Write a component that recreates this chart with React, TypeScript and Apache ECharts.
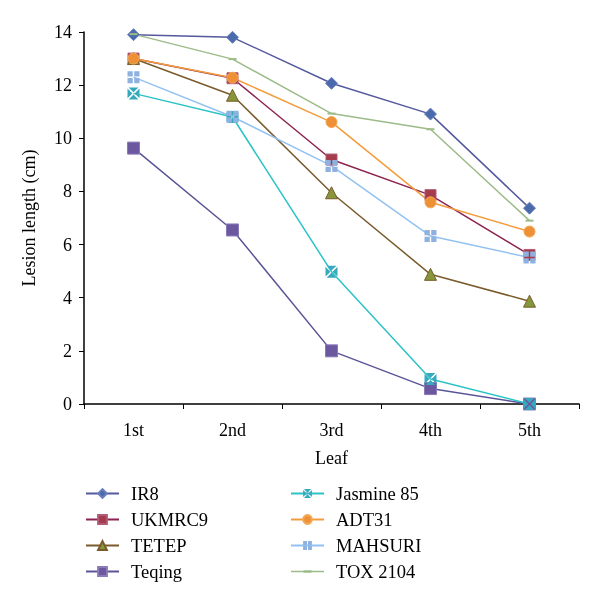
import React, { useEffect, useRef } from "react";
import * as echarts from "echarts";

const categories = ["1st", "2nd", "3rd", "4th", "5th"];
const seriesNames = ["IR8", "UKMRC9", "TETEP", "Teqing", "Jasmine 85", "ADT31", "MAHSURI", "TOX 2104"];
const ir8 = [13.9, 13.8, 12.07, 10.91, 7.37];
const ukmrc9 = [13.0, 12.26, 9.2, 7.86, 5.61];
const tetep = [13.0, 11.62, 7.95, 4.88, 3.87];
const teqing = [9.63, 6.55, 2.0, 0.58, 0];
const jasmine85 = [11.69, 10.8, 4.98, 0.94, 0];
const adt31 = [13.0, 12.28, 10.61, 7.59, 6.49];
const mahsuri = [12.3, 10.81, 8.96, 6.32, 5.51];
const tox2104 = [13.92, 12.98, 10.93, 10.34, 6.9];
const yTicks = [0, 2, 4, 6, 8, 10, 12, 14];

const FONT = "Liberation Serif";

const CROSS_SQUARE = "path://M0,0H4.4V4.4H0Z M5.6,0H10V4.4H5.6Z M0,5.6H4.4V10H0Z M5.6,5.6H10V10H5.6Z";
const X_SQUARE = "path://M0.9,0H9.1L5,4.1Z M10,0.9V9.1L5.9,5Z M0.9,10H9.1L5,5.9Z M0,0.9V9.1L4.1,5Z";
const TOX_LEGEND = "path://M0,0L0.01,0L0.01,0.01Z M0,11L0.01,11L0.01,10.99Z M0,4.8H33V6.2H0Z M12.5,4.2H20.5V6.8H12.5Z";

export default function App() {
  const ref = useRef<HTMLDivElement>(null);
  useEffect(() => {
    const chart = echarts.init(ref.current!, null, { renderer: "svg" });
    const styles = [
      { data: ir8, line: "#55599d", marker: "#4a6aac", border: "#6a80bb", bw: 1, symbol: "diamond", size: 12 },
      { data: ukmrc9, line: "#8c2350", marker: "#a43c4c", border: "#b25a78", bw: 1, symbol: "rect", size: 11 },
      { data: tetep, line: "#7a5b2c", marker: "#86963a", border: "#7a5b2c", bw: 1, symbol: "triangle", size: 12 },
      { data: teqing, line: "#5a5598", marker: "#6b589f", border: "#8a7ab8", bw: 1, symbol: "rect", size: 12 },
      { data: jasmine85, line: "#2cc3c6", marker: "#36a9bd", border: "#36a9bd", bw: 0, symbol: X_SQUARE, size: 12 },
      { data: adt31, line: "#f49b3c", marker: "#ee9035", border: "#f3a857", bw: 1, symbol: "circle", size: 11 },
      { data: mahsuri, line: "#92c2f0", marker: "#8fb1e0", border: "#8fb1e0", bw: 0, symbol: CROSS_SQUARE, size: 12 },
      { data: tox2104, line: "#9cbb88", marker: "#9cbb88", border: "#9cbb88", bw: 0, symbol: "rect", size: [8, 2] },
    ];
    const series = styles.map((s, i) => ({
      name: seriesNames[i],
      type: "line",
      data: s.data,
      symbol: s.symbol,
      symbolSize: s.size,
      lineStyle: { color: s.line, width: 1.5 },
      itemStyle: { color: s.marker, borderColor: s.border, borderWidth: s.bw },
      color: s.line,
    }));
    const legendCommon = {
      orient: "vertical",
      itemWidth: 33,
      itemHeight: 11,
      itemGap: 7,
      height: 140,
      textStyle: { fontFamily: FONT, fontSize: 18.5, color: "#000", padding: [0, 0, 0, 7] },
    };
    chart.setOption({
      animation: false,
      grid: { left: 84, right: 21, top: 32, bottom: 200, containLabel: false },
      legend: [
        { ...legendCommon, left: 80, top: 479, data: seriesNames.slice(0, 4) },
        {
          ...legendCommon,
          left: 285,
          top: 479,
          data: [
            seriesNames[4],
            seriesNames[5],
            seriesNames[6],
            { name: seriesNames[7], icon: TOX_LEGEND, itemStyle: { color: "#9cbb88" } },
          ],
        },
      ],
      xAxis: {
        type: "category",
        data: categories,
        boundaryGap: true,
        name: "Leaf",
        nameLocation: "middle",
        nameGap: 45,
        nameTextStyle: { fontFamily: FONT, fontSize: 18, color: "#000" },
        axisLine: { lineStyle: { color: "#000", width: 1.5 } },
        axisTick: { show: true, length: 5, lineStyle: { color: "#000" } },
        axisLabel: { fontFamily: FONT, fontSize: 18, color: "#000", margin: 17 },
        splitLine: { show: false },
      },
      yAxis: {
        type: "value",
        min: yTicks[0],
        max: yTicks[yTicks.length - 1],
        interval: 2,
        name: "Lesion length (cm)",
        nameLocation: "middle",
        nameGap: 46,
        nameTextStyle: { fontFamily: FONT, fontSize: 18, color: "#000" },
        axisLine: { show: true, lineStyle: { color: "#000", width: 1.5 } },
        axisTick: { show: true, length: 5, lineStyle: { color: "#000" } },
        axisLabel: { fontFamily: FONT, fontSize: 18, color: "#000", margin: 12 },
        splitLine: { show: false },
      },
      series,
    });
    return () => chart.dispose();
  }, []);
  return <div ref={ref} style={{ position: "fixed", left: 0, top: 0, width: 600, height: 604 }} />;
}
